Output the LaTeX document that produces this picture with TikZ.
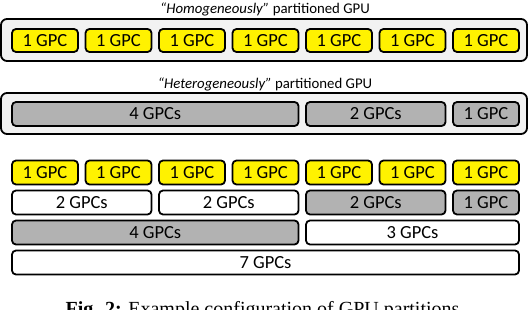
\documentclass[tikz,border=0pt]{standalone}
\usepackage{fontspec}
\setmainfont{Carlito}
\newfontfamily\capfont{Liberation Serif}
\begin{document}
\begin{tikzpicture}[x=1pt,y=-1pt,
  part/.style={draw=black,line width=1.8pt,rounded corners=4pt,inner sep=0pt,
    minimum height=24pt,font=\fontsize{18.5}{20}\selectfont},
  ybox/.style={part,fill=yellow,minimum width=66pt},
  gbox/.style={part,fill=black!30},
  wbox/.style={part,fill=white},
  outer/.style={draw=black,line width=1.8pt,rounded corners=6pt,fill=black!5,inner sep=0pt},
  title/.style={font=\fontsize{14.8}{16}\selectfont,inner sep=0pt},
]
\useasboundingbox (0,0) rectangle (530,310);
% Homogeneous
\node[title] (t1) at (265,9) {\textit{“Homogeneously”} partitioned GPU};
\node[outer,minimum width=526pt,minimum height=42pt] (o1) at (264,40) {};
\foreach \i in {0,...,6}{
  \node[ybox,minimum height=23pt] (h\i) at ({45+73.5*\i},40.5) {1 GPC};
}
% Heterogeneous
\node[title] (t2) at (265,84) {\textit{“Heterogeneously”} partitioned GPU};
\node[outer,minimum width=526pt,minimum height=41pt] (o2) at (264,113.5) {};
\node[gbox,minimum width=286.5pt] (e1) at (155.25,114) {4 GPCs};
\node[gbox,minimum width=139.5pt] (e2) at (375.75,114) {2 GPCs};
\node[gbox,minimum width=66pt] (e3) at (486,114) {1 GPC};
% Configurations
\foreach \i in {0,...,6}{
  \node[ybox] (c\i) at ({45+73.5*\i},172.5) {1 GPC};
}
\node[wbox,minimum width=139.5pt] (d1) at (81.75,202.5) {2 GPCs};
\node[wbox,minimum width=139.5pt] (d2) at (228.75,202.5) {2 GPCs};
\node[gbox,minimum width=139.5pt] (d3) at (375.75,202.5) {2 GPCs};
\node[gbox,minimum width=66pt] (d4) at (486,202.5) {1 GPC};
\node[gbox,minimum width=286.5pt] (f1) at (155.25,232.5) {4 GPCs};
\node[wbox,minimum width=213pt] (f2) at (412.5,232.5) {3 GPCs};
\node[wbox,minimum width=507pt] (s1) at (265.5,262.5) {7 GPCs};
% Caption
\node[font=\capfont\fontsize{20}{22}\selectfont,inner sep=0pt,anchor=base] (cap) at (265,315)
  {\textbf{Fig. 2:} Example configuration of GPU partitions.};
\end{tikzpicture}
\end{document}
